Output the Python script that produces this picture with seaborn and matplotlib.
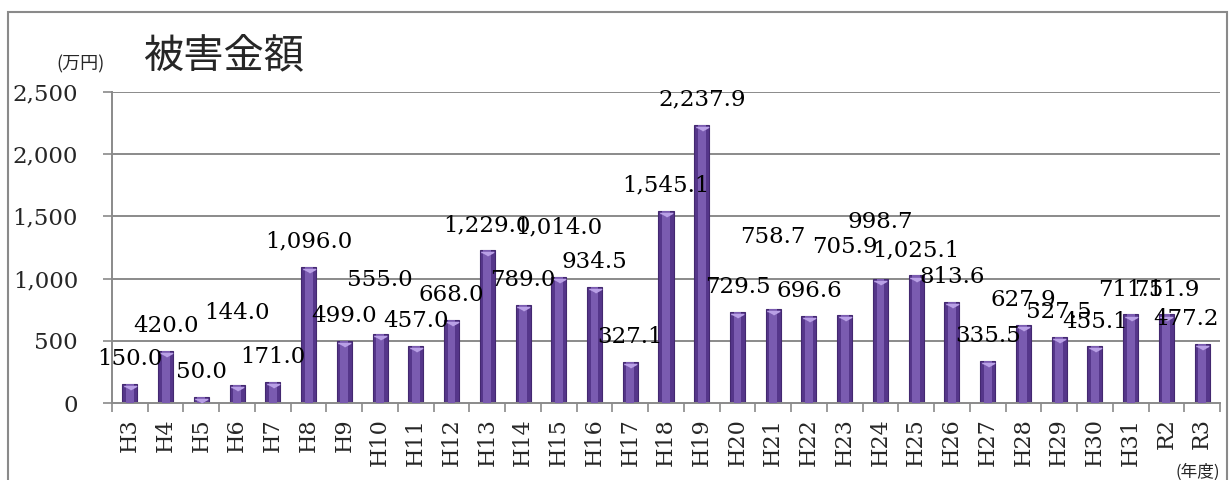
import numpy as np
import pandas as pd
import matplotlib
matplotlib.use('Agg')
import matplotlib.pyplot as plt
import matplotlib.transforms as mtransforms
from matplotlib.patches import Rectangle
from matplotlib.ticker import FuncFormatter, FixedLocator
import seaborn as sns

# dados
anos = ['H3', 'H4', 'H5', 'H6', 'H7', 'H8', 'H9', 'H10', 'H11', 'H12',
        'H13', 'H14', 'H15', 'H16', 'H17', 'H18', 'H19', 'H20', 'H21', 'H22',
        'H23', 'H24', 'H25', 'H26', 'H27', 'H28', 'H29', 'H30', 'H31', 'R2', 'R3']
valores = [150.0, 420.0, 50.0, 144.0, 171.0, 1096.0, 499.0, 555.0, 457.0, 668.0,
           1229.0, 789.0, 1014.0, 934.5, 327.1, 1545.1, 2237.9, 729.5, 758.7, 696.6,
           705.9, 998.7, 1025.1, 813.6, 335.5, 627.9, 527.5, 455.1, 711.5, 711.9, 477.2]
yticks = [0, 500, 1000, 1500, 2000, 2500]

# rotulos que foram movidos a mao no original (altura do centro do texto)
rotulo_y = {'H6': 723, 'H10': 989, 'H15': 1415, 'H21': 1334, 'H23': 1254, 'H24': 1455}
rotulo_dx = {'R3': -0.45}
desloc = 200

df = pd.DataFrame({'ano': anos, 'valor': valores})

sns.set_style('white')
plt.rcParams['font.family'] = ['DejaVu Serif']

cinza = '#8a8a8a'
fig = plt.figure(figsize=(12.3, 4.8), dpi=100)
ax = fig.add_axes([112 / 1230, 1 - 403 / 480, (1220 - 112) / 1230, (403 - 92) / 480])

for y in yticks[1:]:
    ax.axhline(y, color=cinza, lw=1.4, zorder=0)

sns.barplot(data=df, x='ano', y='valor', ax=ax, width=0.42, color='#55368a',
            saturation=1, edgecolor='#432870', linewidth=0.8, zorder=2)
sns.barplot(data=df, x='ano', y='valor', ax=ax, width=0.22, color='#7a5bb0',
            saturation=1, linewidth=0, zorder=3)

# triangulo claro no topo das barras
tri = [(-1, 0), (1, 0), (0, -0.55)]
off = mtransforms.offset_copy(ax.transData, fig=fig, x=0, y=-1.5, units='points')
ax.plot(np.arange(len(anos)), valores, linestyle='none', marker=tri,
        markersize=9, color='#b9a0e6', transform=off, zorder=4)

for i, (a, v) in enumerate(zip(anos, valores)):
    yy = rotulo_y.get(a, v + desloc)
    xx = i + rotulo_dx.get(a, 0)
    ax.text(xx, yy, f'{v:,.1f}', ha='center', va='center', fontsize=16.5,
            color='black', zorder=5)

ax.set_xlim(-0.5, len(anos) - 0.5)
ax.set_ylim(0, 2500)
ax.set_yticks(yticks)
ax.yaxis.set_major_formatter(FuncFormatter(lambda v, p: f'{v:,.0f}'))
ax.tick_params(axis='y', length=6.5, width=1.2, color=cinza, pad=18, labelsize=16.5,
               direction='out', left=True)
ax.xaxis.set_minor_locator(FixedLocator(np.arange(-0.5, len(anos), 1.0)))
ax.tick_params(axis='x', which='major', length=0, pad=11, labelsize=16, rotation=90)
ax.tick_params(axis='x', which='minor', length=6.5, width=1.2, color=cinza,
               direction='out', bottom=True)
ax.set_xlabel('')
ax.set_ylabel('')
for s in ['top', 'right']:
    ax.spines[s].set_visible(False)
for s in ['left', 'bottom']:
    ax.spines[s].set_color(cinza)
    ax.spines[s].set_linewidth(1.4)

fig.text(224 / 1230, 1 - 56 / 480, '被害金額', fontsize=29, ha='center', va='center',
         family=['Noto Sans CJK JP', 'DejaVu Sans'])
fig.text(81 / 1230, 1 - 64 / 480, '(万円)', fontsize=13, ha='center', va='center',
         family=['Noto Sans CJK JP', 'DejaVu Sans'])
fig.text(1198 / 1230, 1 - 472 / 480, '(年度)', fontsize=12, ha='center', va='center',
         family=['Noto Sans CJK JP', 'DejaVu Sans'])

fig.patches.append(Rectangle((8 / 1230, -0.1), (1227 - 8) / 1230, 1.1 - 12 / 480,
                             transform=fig.transFigure, fill=False,
                             edgecolor=cinza, lw=1.5))

fig.savefig('out.png', dpi=100)
